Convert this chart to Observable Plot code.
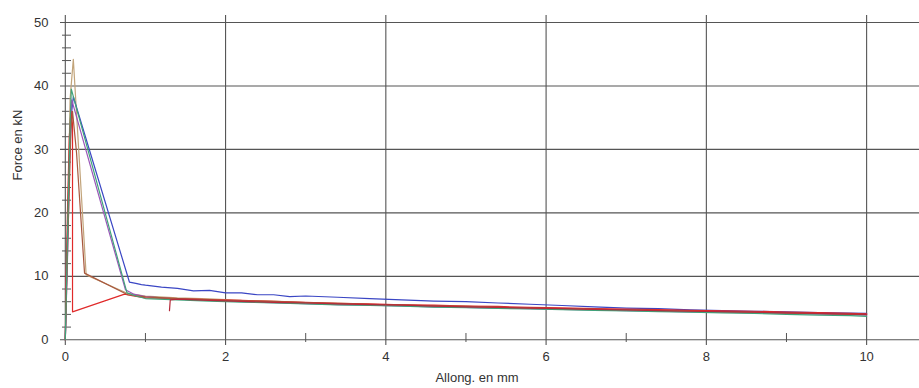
<!DOCTYPE html>
<html>
<head>
<meta charset="utf-8">
<script src="https://cdn.jsdelivr.net/npm/d3@7"></script>
<script src="https://cdn.jsdelivr.net/npm/@observablehq/plot@0.6"></script>
<style>
  html, body { margin: 0; padding: 0; background: #fff; }
  #chart { width: 919px; height: 388px; }
</style>
</head>
<body>
<div id="chart"></div>
<script>
// ---- data ----
const xLabel = "Allong. en mm";
const yLabel = "Force en kN";
const xTicks = [0, 2, 4, 6, 8, 10];
const xMinorTicks = [1, 3, 5, 7, 9];
const yTicks = [0, 10, 20, 30, 40, 50];
const yMinorTicks = [2, 4, 6, 8, 12, 14, 16, 18, 22, 24, 26, 28, 32, 34, 36, 38, 42, 44, 46, 48];

const seriesNames = ["Essai 1", "Essai 2", "Essai 3", "Essai 4", "Essai 5", "Essai 6", "Essai 7"];

const tailX = [1.0, 1.4, 1.8, 2.2, 2.6, 3.0, 3.4, 3.8, 4.2, 4.6, 5.0, 5.4, 5.8, 6.2, 6.6, 7.0, 7.4, 7.8, 8.2, 8.6, 9.0, 9.4, 9.8, 10.0];

// Essai 1 (tan)
const s1x = [0.00, 0.03, 0.06, 0.10, 0.26, 0.78, ...tailX];
const s1y = [0, 18, 38, 44.2, 10.2, 7.3,
  6.9, 6.6, 6.45, 6.2, 6.1, 5.85, 5.8, 5.6, 5.55, 5.35, 5.3, 5.1, 5.05, 4.9, 4.85, 4.7, 4.65, 4.55, 4.5, 4.35, 4.3, 4.15, 4.1, 4.05];
// Essai 2 (blue)
const s2x = [0.00, 0.02, 0.05, 0.08, 0.10, 0.80, 0.88, 0.95, 1.0, 1.2, 1.4, 1.6, 1.8, 2.0, 2.2, 2.4, 2.6, 2.8, 3.0, 3.4, 3.8, 4.2, 4.6, 5.0, 5.4, 5.8, 6.2, 6.6, 7.0, 7.4, 7.8, 8.2, 8.6, 9.0, 9.4, 9.8, 10.0];
const s2y = [0, 12, 28, 36, 38.3, 9.1, 8.9, 8.7,
  8.6, 8.3, 8.1, 7.7, 7.8, 7.4, 7.4, 7.1, 7.1, 6.8, 6.9, 6.7, 6.5, 6.3, 6.1, 6.0, 5.8, 5.6, 5.4, 5.2, 5.0, 4.9, 4.7, 4.6, 4.5, 4.4, 4.3, 4.2, 4.15];
// Essai 3 (purple)
const s3x = [0.00, 0.03, 0.06, 0.08, 0.75, 0.85, ...tailX];
const s3y = [0, 14, 32, 37.8, 7.9, 7.2,
  6.8, 6.4, 6.2, 6.0, 5.85, 5.7, 5.55, 5.45, 5.35, 5.2, 5.1, 5.0, 4.9, 4.8, 4.7, 4.6, 4.5, 4.4, 4.35, 4.25, 4.15, 4.05, 3.95, 3.9];
// Essai 4 (red)
const s4x = [0.00, 0.01, 0.03, 0.05, 0.07, 0.09, 0.09, 0.74, 0.85, ...tailX];
const s4y = [0, 10, 22, 32, 36, 34, 4.4, 7.2, 6.9,
  6.6, 6.5, 6.35, 6.2, 6.05, 5.9, 5.75, 5.65, 5.5, 5.45, 5.3, 5.25, 5.1, 5.05, 4.9, 4.85, 4.75, 4.65, 4.55, 4.5, 4.35, 4.3, 4.15, 4.1];
// Essai 5 (brown)
const s5x = [0.00, 0.03, 0.07, 0.09, 0.14, 0.24, 0.78, ...tailX];
const s5y = [0, 15, 33, 36, 29.5, 10.5, 7.1,
  6.75, 6.5, 6.3, 6.15, 6.0, 5.85, 5.7, 5.6, 5.45, 5.35, 5.25, 5.1, 5.0, 4.9, 4.8, 4.7, 4.6, 4.5, 4.4, 4.3, 4.2, 4.1, 4.0, 3.95];
// Essai 6 (green / teal)
const s6x = [0.00, 0.03, 0.06, 0.075, 0.77, 0.88, ...tailX];
const s6y = [0, 18, 34, 39.5, 7.4, 6.9,
  6.5, 6.3, 6.1, 5.95, 5.8, 5.65, 5.5, 5.4, 5.3, 5.15, 5.05, 4.95, 4.85, 4.75, 4.65, 4.55, 4.45, 4.35, 4.25, 4.15, 4.0, 3.9, 3.8, 3.7];
// Essai 7 (dark red, starts late)
const s7x = [1.30, 1.31, 1.4, 1.8, 2.2, 2.6, 3.0, 3.4, 3.8, 4.2, 4.6, 5.0, 5.4, 5.8, 6.2, 6.6, 7.0, 7.4, 7.8, 8.2, 8.6, 9.0, 9.4, 9.8, 10.0];
const s7y = [4.6, 6.3, 6.4, 6.2, 6.05, 5.9, 5.8, 5.65, 5.55, 5.45, 5.3, 5.2, 5.1, 5.0, 4.9, 4.8, 4.7, 4.6, 4.5, 4.45, 4.35, 4.25, 4.15, 4.05, 4.0];

const seriesX = [s1x, s2x, s3x, s4x, s5x, s6x, s7x];
const seriesY = [s1y, s2y, s3y, s4y, s5y, s6y, s7y];
const seriesColors = ["#c2a47a", "#3a46c4", "#9a55b8", "#e02a2a", "#a8583e", "#3fa37a", "#b52a3a"];

// ---- build table ----
const rows = [];
seriesNames.forEach((name, i) => {
  seriesX[i].forEach((x, j) => rows.push({series: name, x, y: seriesY[i][j]}));
});

const gridColor = "#555";

const chart = Plot.plot({
  width: 919,
  height: 388,
  marginLeft: 60,
  marginRight: 0,
  marginTop: 15,
  marginBottom: 43,
  style: {fontFamily: "'Liberation Sans', Arial, sans-serif", fontSize: "13px", color: "#333", background: "#fff"},
  x: {domain: [-0.06, 10.66], axis: null},
  y: {domain: [-0.9, 51.1], axis: null},
  color: {domain: seriesNames, range: seriesColors},
  marks: [
    Plot.ruleY(yTicks, {stroke: gridColor, strokeWidth: 1.1}),
    Plot.ruleX(xTicks, {stroke: gridColor, strokeWidth: 1.1}),
    Plot.axisX({ticks: xMinorTicks, tickSize: 9, tickFormat: () => "", dy: -12, stroke: gridColor, label: null}),
    Plot.axisY({ticks: yMinorTicks, tickSize: 9, tickFormat: () => "", dx: 11, stroke: gridColor, label: null}),
    Plot.axisX({ticks: xTicks, tickSize: 0, tickPadding: 6, fontSize: 13, label: null}),
    Plot.axisY({ticks: yTicks, tickSize: 0, tickPadding: 12, fontSize: 13, label: null}),
    Plot.text([xLabel], {text: d => d, frameAnchor: "bottom", dy: 36, dx: -13, fontSize: 13, fill: "#333"}),
    Plot.text([yLabel], {text: d => d, frameAnchor: "left", rotate: -90, dx: -43, fontSize: 13, fill: "#333"}),
    Plot.line(rows, {x: "x", y: "y", z: "series", stroke: "series", strokeWidth: 1.2, curve: "linear"})
  ]
});
document.getElementById("chart").appendChild(chart);
</script>
</body>
</html>
